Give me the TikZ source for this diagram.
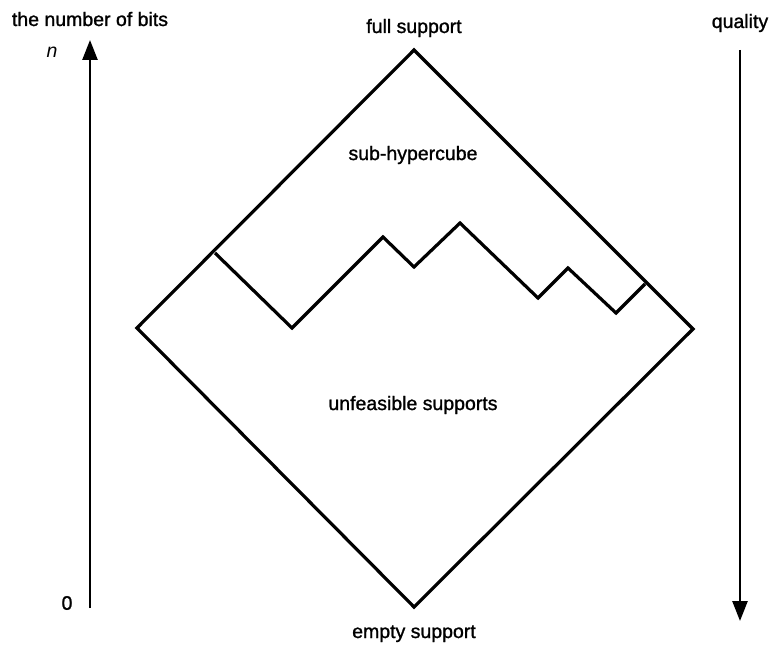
\documentclass[tikz,border=0pt]{standalone}
\usepackage{fontspec}
\setmainfont{Liberation Sans}[BoldFont={Liberation Sans},BoldFeatures={FakeBold=1.2}]
\usetikzlibrary{arrows.meta}
\begin{document}
\begin{tikzpicture}[x=1pt,y=-1pt,
  edge/.style={line width=3.2pt,line join=miter},
  axis/.style={line width=2.6pt,-{Triangle[width=15pt,length=20pt]}},
  lbl/.style={font=\fontsize{19.5}{22}\selectfont\bfseries,inner sep=0pt}]
\useasboundingbox (0,0) rectangle (774,650);
% diamond corners
\coordinate (top) at (414,50);
\coordinate (left) at (137,328);
\coordinate (right) at (693,329);
\coordinate (bottom) at (414,607);
\draw[edge] (top) -- (right) -- (bottom) -- (left) -- cycle;
% boundary of the sub-hypercube region
\coordinate (z1) at (215,253);
\coordinate (z2) at (292,328);
\coordinate (z3) at (383,237);
\coordinate (z4) at (414,267);
\coordinate (z5) at (460,223);
\coordinate (z6) at (538,298);
\coordinate (z7) at (568,268);
\coordinate (z8) at (616,313);
\coordinate (z9) at (645,284);
\draw[edge] (z1) -- (z2) -- (z3) -- (z4) -- (z5) -- (z6) -- (z7) -- (z8) -- (z9);
% axes
\coordinate (l0) at (90,608);
\coordinate (l1) at (90,40);
\draw[axis] (l0) -- (l1);
\coordinate (r0) at (740,50);
\coordinate (r1) at (740,621);
\draw[axis] (r0) -- (r1);
% labels
\node[lbl,anchor=base] (bits) at (90,26) {the number of bits};
\node[lbl,anchor=base] (qual) at (740,28) {quality};
\node[lbl,anchor=base] (full) at (414,33) {full support};
\node[lbl,anchor=base] (empty) at (414,638) {empty support};
\node[lbl] (sub) at (413,155) {sub-hypercube};
\node[lbl] (unf) at (413,405) {unfeasible supports};
\node[lbl] (n) at (52,52) {\itshape n};
\node[lbl] (zero) at (67,603) {0};
\end{tikzpicture}
\end{document}
